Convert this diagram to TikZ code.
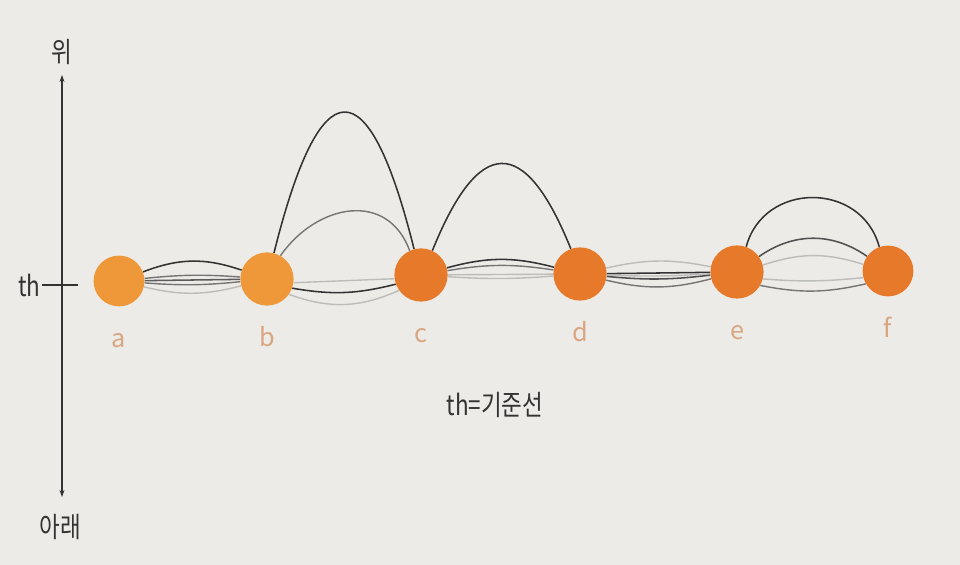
\documentclass[tikz,border=0pt]{standalone}
\usepackage{fontspec}
\setmainfont{Noto Sans CJK KR}
\usetikzlibrary{arrows.meta,backgrounds}
\definecolor{paper}{RGB}{236,235,231}
\definecolor{ltorange}{RGB}{238,152,58}
\definecolor{dkorange}{RGB}{231,121,42}
\definecolor{labeltan}{RGB}{218,166,130}
\definecolor{ink}{RGB}{52,50,50}
\definecolor{midgray}{RGB}{118,116,116}
\definecolor{ltgray}{RGB}{188,188,186}
\newcommand\tallt[1]{\scalebox{1}[1.25]{#1}}
\tikzset{
  ball/.style={circle,fill=#1,minimum size=1.33cm,inner sep=0pt},
  lbl/.style={text=labeltan,font=\fontsize{18}{20}\selectfont,anchor=base},
  txt/.style={text=ink,font=\fontsize{16}{18}\selectfont},
  dk/.style={draw=ink,line width=1.1pt},
  md/.style={draw=midgray,line width=1pt},
  lt/.style={draw=ltgray,line width=1pt},
}
\begin{document}
\begin{tikzpicture}
\useasboundingbox (0,0) rectangle (24,14.125);
\coordinate (top) at (1.55,12.25);
\coordinate (bot) at (1.55,1.7);
\coordinate (thl) at (1.05,7.0);
\coordinate (thr) at (1.95,7.0);
\draw[ink,line width=0.8pt,{Stealth[length=5pt,width=3.5pt]}-{Stealth[length=5pt,width=3.5pt]}] (bot) -- (top);
\draw[ink,line width=0.8pt] (thl) -- (thr);
\node[txt] (up) at (1.55,12.825) {\tallt{위}};
\node[txt] (down) at (1.5,0.95) {\tallt{아래}};
\node[txt,anchor=east,inner sep=1pt] (th) at (thl) {\tallt{th}};
\node[txt] (note) at (12.375,4.0) {\tallt{th=기준선}};

\node[ball=ltorange,minimum size=1.27cm] (a) at (2.975,7.1) {};
\node[ball=ltorange] (b) at (6.675,7.15) {};
\node[ball=dkorange] (c) at (10.525,7.25) {};
\node[ball=dkorange] (d) at (14.5,7.275) {};
\node[ball=dkorange] (e) at (18.425,7.325) {};
\node[ball=dkorange,minimum size=1.27cm] (f) at (22.2,7.35) {};

\node[lbl] (la) at ([yshift=-1.02cm]a.south) {a};
\node[lbl] (lb) at ([yshift=-1.02cm]b.south) {b};
\node[lbl] (lc) at ([yshift=-1.02cm]c.south) {c};
\node[lbl] (ld) at ([yshift=-1.02cm]d.south) {d};
\node[lbl] (le) at ([yshift=-1.02cm]e.south) {e};
\node[lbl] (lf) at ([yshift=-1.02cm]f.south) {f};

\begin{scope}[on background layer]
\fill[paper] (0,0) rectangle (24,14.125);
\draw[dk] (a) to[bend left=20] (b);
\draw[md] (a) to[bend left=5] (b);
\draw[dk,draw=ink!80] (a) to (b);
\draw[md] (a) to[bend right=5] (b);
\draw[lt] (a) to[bend right=14] (b);

\draw[dk] (b.75) .. controls +(76:4.8) and +(104:4.75) .. (c.105);
\draw[md] (b.60) .. controls +(55:1.6) and +(110:1.6) .. (c.115);
\draw[lt] (b.-8) to (c.-172);
\draw[dk] (b.-20) to[bend right=12] (c.-160);
\draw[lt] (b.-35) to[bend right=22] (c.-145);

\draw[dk] (c.65) .. controls +(68:3.1) and +(112:3.1) .. (d.110);
\draw[dk] (c) to[bend left=15] (d);
\draw[md] (c) to[bend left=9] (d);
\draw[lt] (c) to (d);
\draw[lt] (c) to[bend right=4] (d);

\draw[lt] (d) to[bend left=12] (e);
\draw[dk] (d) to (e);
\draw[lt] (d) to[bend right=3] (e);
\draw[dk,draw=ink!85] (d) to[bend right=6] (e);
\draw[md] (d) to[bend right=14] (e);

\draw[dk] (e.70) .. controls +(75:1.7) and +(105:1.7) .. (f.110);
\draw[dk,draw=ink!85] (e.35) to[bend left=35] (f.145);
\draw[lt] (e.15) to[bend left=18] (f.165);
\draw[lt] (e.-15) to[bend right=5] (f.195);
\draw[md] (e.-30) to[bend right=12] (f.210);
\end{scope}
\end{tikzpicture}
\end{document}
